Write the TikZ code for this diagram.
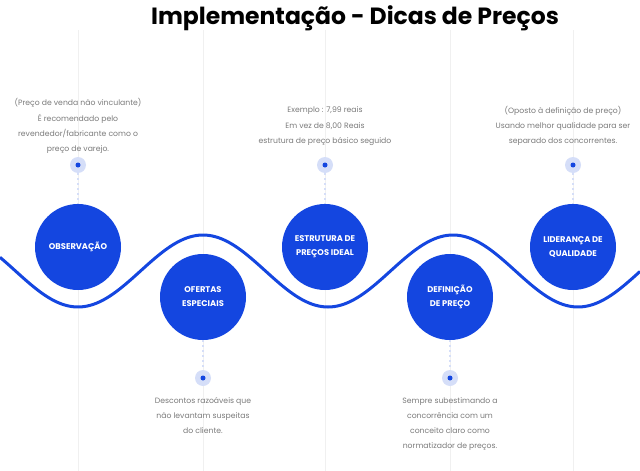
\documentclass[tikz,border=0pt]{standalone}
\usepackage{fontspec}
\setmainfont{Poppins}
\definecolor{dblue}{HTML}{1446E0}
\definecolor{halo}{HTML}{D5DEF8}
\definecolor{note}{HTML}{7A7A7A}
\begin{document}
\begin{tikzpicture}[x=1pt,y=-1pt,
  stage/.style={circle,fill=dblue,minimum size=86pt,inner sep=0pt,text=white,
    font=\fontsize{8.3}{14}\selectfont\bfseries,align=center},
  pin/.style={circle,fill=halo,minimum size=16pt,inner sep=0pt},
  dot/.style={circle,fill=dblue,minimum size=5pt,inner sep=0pt},
  txt/.style={text=note,font=\fontsize{7.7}{15.2}\selectfont,align=center},
  stem/.style={halo,line width=2.5pt,dash pattern=on 2pt off 3pt}]
\useasboundingbox (0,0) rectangle (640,471);
\node[font=\fontsize{23.5}{26}\selectfont\bfseries] (title) at (355,18) {Implementação - Dicas de Preços};
% guide lines
\foreach \gx in {78,203,325,450,573}
  \draw[gray!12,line width=0.6pt] (\gx,30) -- (\gx,471);
% wave
\draw[dblue,line width=3pt] plot[domain=0:640,samples=200] (\x,{271+36*cos(1.44*(\x-78))});
% upper stages
\foreach \n/\gx/\lab in {a/78/OBSERVAÇÃO,c/325/ESTRUTURA DE\\PREÇOS IDEAL,e/573/LIDERANÇA DE\\QUALIDADE}{
  \node[pin] (p\n) at (\gx,165) {};
  \node[stage] (s\n) at (\gx,247) {\lab};
  \draw[stem] (p\n.south) -- (s\n.north);
  \node[dot] at (p\n) {};
}
% lower stages
\foreach \n/\gx/\lab in {b/203/OFERTAS\\ESPECIAIS,d/450/DEFINIÇÃO\\DE PREÇO}{
  \node[pin] (p\n) at (\gx,378) {};
  \node[stage] (s\n) at (\gx,297) {\lab};
  \draw[stem] (s\n.south) -- (p\n.north);
  \node[dot] at (p\n) {};
}
\node[txt,anchor=south] (ta) at (78,157) {(Preço de venda não vinculante)\\É recomendado pelo\\revendedor/fabricante como o\\preço de varejo.};
\node[txt,anchor=south] (tc) at (325,149) {Exemplo : 7,99 reais\\Em vez de 8,00 Reais\\estrutura de preço básico seguido};
\node[txt,anchor=south] (te) at (563,149) {(Oposto à definição de preço)\\Usando melhor qualidade para ser\\separado dos concorrentes.};
\node[txt,anchor=north] (tb) at (203,394) {Descontos razoáveis que\\não levantam suspeitas\\do cliente.};
\node[txt,anchor=north] (td) at (450,394) {Sempre subestimando a\\concorrência com um\\conceito claro como\\normatizador de preços.};
\end{tikzpicture}
\end{document}
